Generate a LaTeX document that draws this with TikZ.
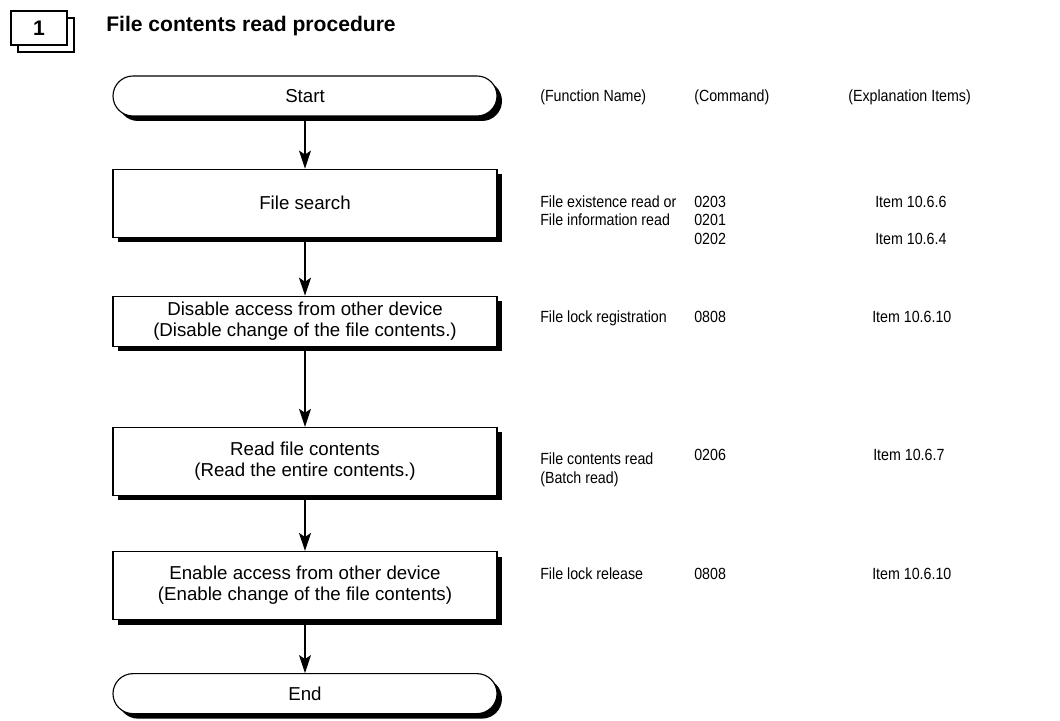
\documentclass[tikz,border=0pt]{standalone}
\usepackage{fontspec}
\setmainfont{Liberation Sans}
\newfontfamily\narrowsans[FakeStretch=0.88]{Liberation Sans}
\usetikzlibrary{arrows.meta, positioning, shadows}
\tikzset{
	numbox/.style   ={rectangle, minimum width=14mm, minimum height=8.5mm, draw=black, line width=0.8pt, fill=white, font=\fontsize{15}{17}\selectfont\bfseries, general shadow={draw=black, fill=white, line width=0.8pt, shadow xshift=1.75mm, shadow yshift=-1.75mm}},
	terminal/.style ={rectangle, rounded corners=5mm, minimum width=96mm, minimum height=10mm, draw=black, line width=0.8pt, fill=white, font=\fontsize{13.3}{15}\selectfont, general shadow={fill=black, shadow xshift=1.25mm, shadow yshift=-1.25mm}},
	process/.style  ={rectangle, minimum width=96mm, minimum height=17mm, align=center, draw=black, line width=0.8pt, fill=white, font=\fontsize{13.3}{15}\selectfont, general shadow={fill=black, shadow xshift=1.25mm, shadow yshift=-1.25mm}},
	flowarrow/.style={-{Stealth[length=4.5mm, width=3mm, inset=1mm]}, line width=0.8pt},
	% right-hand columns
	coltext/.style  ={anchor=base west, inner sep=0pt, align=left, font=\narrowsans\fontsize{11.5}{13}\selectfont},
}

\begin{document}
\begin{tikzpicture}[x=0.25mm, y=0.25mm, node distance=13mm]
	\useasboundingbox (0,0) rectangle (1060,720);
	\node[numbox] (num) at (39,692) {1};
	\node[anchor=base west, inner sep=0pt, font=\fontsize{15}{17}\selectfont\bfseries] (title) at (106,688) {File contents read procedure};
	% flow
	\node[terminal] (start) at (305,624) {Start};
	\node[process, below=13mm of start] (search) {File search};
	\node[process, minimum height=12.5mm, below=14.5mm of search] (lock) {Disable access from other device\\(Disable change of the file contents.)};
	\node[process, below=20mm of lock] (read) {Read file contents\\(Read the entire contents.)};
	\node[process, below=13.75mm of read] (unlock) {Enable access from other device\\(Enable change of the file contents)};
	\node[terminal, below=13.25mm of unlock] (end) {End};
	\draw[flowarrow] (start) -- (search);
	\draw[flowarrow] (search) -- (lock);
	\draw[flowarrow] (lock) -- (read);
	\draw[flowarrow] (read) -- (unlock);
	\draw[flowarrow] (unlock) -- (end);
	% headings of the columns
	\node[coltext] (fnhead) at (540,618) {(Function Name)};
	\node[coltext] (cmdhead) at (694,618) {(Command)};
	\node[coltext] (itemhead) at (848,618) {(Explanation Items)};
	% file search
	\node[coltext] (fn1) at (540,494) {File existence read or\\File information read};
	\node[coltext] (cmd1a) at (694,512) {0203};
	\node[coltext] (cmd1b) at (694,494) {0201};
	\node[coltext] (cmd1c) at (694,475) {0202};
	\node[coltext] (item1a) at (875,512) {Item 10.6.6};
	\node[coltext] (item1b) at (875,475) {Item 10.6.4};
	% lock
	\node[coltext] (fn2) at (540,397) {File lock registration};
	\node[coltext] (cmd2) at (694,397) {0808};
	\node[coltext] (item2) at (872,397) {Item 10.6.10};
	% read
	\node[coltext] (fn3) at (540,237) {File contents read\\(Batch read)};
	\node[coltext] (cmd3) at (694,260) {0206};
	\node[coltext] (item3) at (873,260) {Item 10.6.7};
	% unlock
	\node[coltext] (fn4) at (540,141) {File lock release};
	\node[coltext] (cmd4) at (694,141) {0808};
	\node[coltext] (item4) at (872,141) {Item 10.6.10};
\end{tikzpicture}
\end{document}
